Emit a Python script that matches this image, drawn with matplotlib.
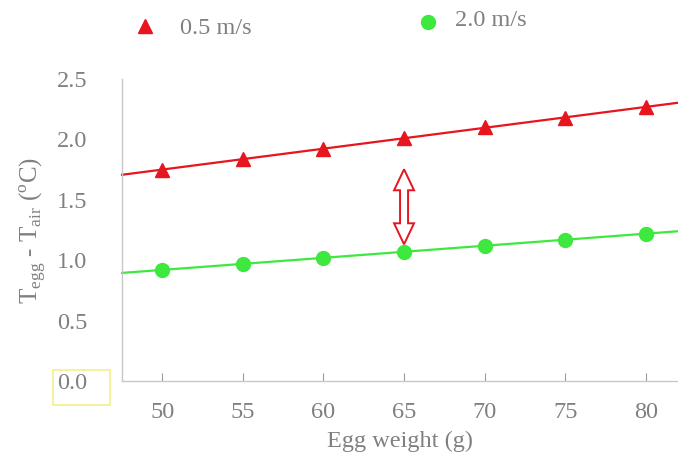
import matplotlib
matplotlib.use("Agg")
import matplotlib.pyplot as plt
import matplotlib.transforms as mtrans
import numpy as np
from matplotlib.patches import Polygon, Rectangle

plt.rcParams['font.family'] = ['Liberation Serif', 'DejaVu Serif']
plt.rcParams['mathtext.fontset'] = 'custom'
plt.rcParams['mathtext.rm'] = 'Liberation Serif'

weights = [50, 55, 60, 65, 70, 75, 80]
diff_05 = [1.75, 1.84, 1.92, 2.01, 2.10, 2.18, 2.27]
diff_20 = [0.92, 0.97, 1.02, 1.07, 1.12, 1.17, 1.22]
labels = ["0.5 m/s", "2.0 m/s"]

red = "#e8141e"
green = "#3ee83e"
grey = "#808080"
fs = 17.5

fig = plt.figure(figsize=(6.78, 4.61), dpi=100)
ax = fig.add_axes([0.18, 0.1735, 0.82, 0.655])
xlim = (47.5, 82.0)
ax.set_xlim(*xlim)
ax.set_ylim(0, 2.5)

xx = np.array(xlim)
for ys, col, mk, ms in [(diff_05, red, '^', 10), (diff_20, green, 'o', 10)]:
    k, b = np.polyfit(weights, ys, 1)
    ax.plot(xx, k * xx + b, color=col, lw=1.6, zorder=2, clip_on=False)
    ax.plot(weights, ys, linestyle='none', marker=mk, color=col, ms=ms, zorder=3)

# hollow double-headed block arrow at 65 g (shape in inches around its centre)
y_lo, y_hi = 1.135, 1.75
hl, hw, sw = 0.375, 0.10, 0.04   # half-length, head half-width, shaft half-width
hlen = 0.21
shape = [(0, hl), (hw, hl - hlen), (sw, hl - hlen), (sw, -hl + hlen), (hw, -hl + hlen),
         (0, -hl), (-hw, -hl + hlen), (-sw, -hl + hlen), (-sw, hl - hlen), (-hw, hl - hlen)]
tr = fig.dpi_scale_trans + mtrans.ScaledTranslation(65, (y_lo + y_hi) / 2, ax.transData)
ax.add_patch(Polygon(shape, closed=True, transform=tr, fc='white', ec=red, lw=1.4, zorder=4))

for s in ['top', 'right']:
    ax.spines[s].set_visible(False)
for s in ['left', 'bottom']:
    ax.spines[s].set_color('#c8c8c8')
    ax.spines[s].set_linewidth(1.0)

ax.set_xticks(weights)
ax.set_yticks([0, 0.5, 1.0, 1.5, 2.0, 2.5])
ax.set_yticklabels(['0.0', '0.5', '1.0', '1.5', '2.0', '2.5'])
ax.tick_params(axis='x', direction='in', length=6, color='#999999', labelsize=fs,
               labelcolor=grey, pad=15)
ax.tick_params(axis='y', length=0, labelsize=fs, labelcolor=grey, pad=25)

ax.set_xlabel('Egg weight (g)', fontsize=fs, color=grey, labelpad=6)
ax.set_ylabel(r'T$_{\mathregular{egg}}$ - T$_{\mathregular{air}}$ ($^{\mathregular{o}}$C)',
              fontsize=18, color=grey, labelpad=6)

# yellow box around 0.0 tick label
fig.patches.append(Rectangle((53 / 678, 1 - 405 / 461), 57 / 678, 35 / 461,
                             transform=fig.transFigure, fill=False, ec='#f5ef8a', lw=1.2))

# legend at top
fig.lines.append(plt.Line2D([145 / 678], [1 - 26 / 461], transform=fig.transFigure,
                            marker='^', color=red, ms=10, linestyle='none'))
fig.text(180 / 678, 1 - 28 / 461, labels[0], fontsize=fs, color=grey, va='center')
fig.lines.append(plt.Line2D([428 / 678], [1 - 22 / 461], transform=fig.transFigure,
                            marker='o', color=green, ms=10, linestyle='none'))
fig.text(455 / 678, 1 - 20 / 461, labels[1], fontsize=fs, color=grey, va='center')

fig.savefig('out.png', dpi=100)
